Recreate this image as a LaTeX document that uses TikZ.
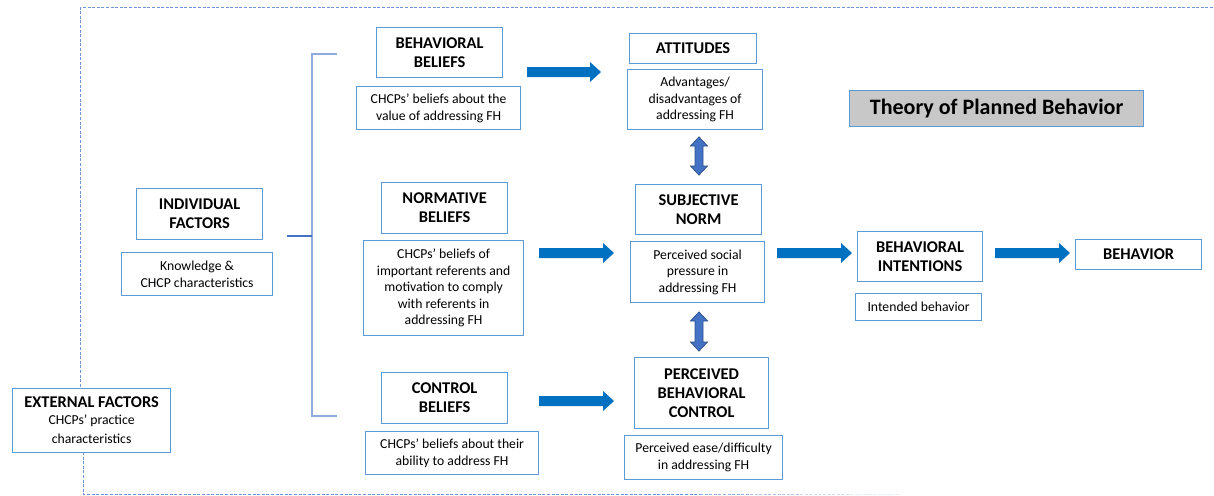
\documentclass[tikz,border=0pt]{standalone}
\usepackage{fontspec}
\setmainfont{Carlito}
\usetikzlibrary{calc}
\definecolor{boxblue}{RGB}{91,155,213}
\definecolor{arrblue}{RGB}{0,112,192}
\definecolor{dblue}{RGB}{68,114,196}
\definecolor{dblueedge}{RGB}{47,82,143}
\definecolor{brk}{RGB}{143,170,220}
\definecolor{dashcol}{RGB}{112,148,220}
\definecolor{titlegray}{RGB}{200,200,200}
\newcommand{\hdfont}{\fontsize{16.4}{19}\selectfont\bfseries}
\newcommand{\smfont}{\fontsize{13.7}{16.6}\selectfont\mdseries}
\newcommand{\harrow}[2]{%
  \fill[arrblue] ($(#1)+(0,-5)$) -- ($(#2)+(-11,-5)$) -- ($(#2)+(-11,-10)$) -- (#2)
    -- ($(#2)+(-11,10)$) -- ($(#2)+(-11,5)$) -- ($(#1)+(0,5)$) -- cycle;}
\newcommand{\varrow}[2]{%
  \filldraw[fill=dblue,draw=dblueedge,line width=0.8pt,line join=miter]
    (#1) -- ($(#1)+(8.5,9)$) -- ($(#1)+(4,9)$) -- ($(#2)+(4,-9)$) -- ($(#2)+(8.5,-9)$)
    -- (#2) -- ($(#2)+(-8.5,-9)$) -- ($(#2)+(-4,-9)$) -- ($(#1)+(-4,9)$) -- ($(#1)+(-8.5,9)$) -- cycle;}
\tikzset{
  box/.style={draw=boxblue, line width=1.2pt, fill=white, align=center, inner sep=1pt, anchor=north west},
  hd/.style={box, font=\hdfont},
  sm/.style={box, font=\smfont},
}
\begin{document}
\begin{tikzpicture}[x=1pt,y=-1pt]
\useasboundingbox (0,0) rectangle (1214,495);
% dashed frame
\begin{scope}[draw=dashcol, line width=1pt, dash pattern=on 3pt off 1.6pt]
  \draw (1213,8) -- (80,8) -- (80,390);
  \draw (83,452) -- (83,494) -- (700,494);
  \draw[opacity=0.75] (700,494) -- (750,494);
  \draw[opacity=0.55] (750,494) -- (800,494);
  \draw[opacity=0.35] (800,494) -- (850,494);
  \draw[opacity=0.18] (850,494) -- (900,494);
\end{scope}
% bracket
\coordinate (bl) at (287,236);
\coordinate (bm) at (312,236);
\coordinate (bt) at (312,54);
\coordinate (bb) at (312,416);
\coordinate (btr) at (337,54);
\coordinate (bbr) at (337,416);
\draw[brk, line width=1.2pt] (btr) -- (bt) -- (bb) -- (bbr);
\draw[dblue, line width=1.2pt] (bl) -- (bm);
% boxes
\node[hd, minimum width=158pt, minimum height=64pt] (ext) at (12,388)
  {EXTERNAL FACTORS\\[-2pt]\smfont CHCPs’ practice\\\smfont characteristics};
\node[hd, minimum width=126pt, minimum height=51pt] (ind) at (136,188) {INDIVIDUAL\\FACTORS};
\node[sm, minimum width=151pt, minimum height=43pt] (know) at (121,252) {Knowledge \&\\CHCP characteristics};
\node[hd, minimum width=126pt, minimum height=50pt] (bbel) at (376,27) {BEHAVIORAL\\BELIEFS};
\node[sm, minimum width=164pt, minimum height=43pt] (bbd) at (356,86) {CHCPs’ beliefs about the\\value of addressing FH};
\node[hd, minimum width=127pt, minimum height=30pt] (att) at (629,33) {ATTITUDES};
\node[sm, minimum width=135pt, minimum height=60pt] (attd) at (627,69) {Advantages/\\disadvantages of\\addressing FH};
\node[hd, minimum width=126pt, minimum height=51pt] (nb) at (381,182) {NORMATIVE\\BELIEFS};
\node[sm, minimum width=160pt, minimum height=95pt] (nbd) at (363,240) {CHCPs’ beliefs of\\important referents and\\motivation to comply\\with referents in\\addressing FH};
\node[hd, minimum width=126pt, minimum height=50pt] (sn) at (635,184) {SUBJECTIVE\\NORM};
\node[sm, minimum width=134pt, minimum height=61pt] (snd) at (630,241) {Perceived social\\pressure in\\addressing FH};
\node[hd, minimum width=126pt, minimum height=51pt] (cb) at (381,372) {CONTROL\\BELIEFS};
\node[sm, minimum width=173pt, minimum height=43pt] (cbd) at (365,431) {CHCPs’ beliefs about their\\ability to address FH};
\node[hd, minimum width=134pt, minimum height=71pt] (pbc) at (634,357) {PERCEIVED\\BEHAVIORAL\\CONTROL};
\node[sm, minimum width=158pt, minimum height=44pt] (pbcd) at (624,435) {Perceived ease/difficulty\\in addressing FH};
\node[box, fill=titlegray, font=\fontsize{22}{26}\selectfont\bfseries, minimum width=294pt, minimum height=36pt] (title) at (849,90) {Theory of Planned Behavior};
\node[hd, minimum width=125pt, minimum height=50pt] (bi) at (857,231) {BEHAVIORAL\\INTENTIONS};
\node[sm, minimum width=126pt, minimum height=27pt] (ib) at (855,293) {Intended behavior};
\node[hd, minimum width=126pt, minimum height=30pt] (beh) at (1075,239) {BEHAVIOR};
% arrows
\coordinate (a1s) at (527,72);  \coordinate (a1e) at (601,72);
\coordinate (a2s) at (539,253); \coordinate (a2e) at (614,253);
\coordinate (a3s) at (539,401); \coordinate (a3e) at (614,401);
\coordinate (a4s) at (777,253); \coordinate (a4e) at (852,253);
\coordinate (a5s) at (995,253); \coordinate (a5e) at (1070,253);
\harrow{a1s}{a1e}
\harrow{a2s}{a2e}
\harrow{a3s}{a3e}
\harrow{a4s}{a4e}
\harrow{a5s}{a5e}
\coordinate (d1t) at (699,137); \coordinate (d1b) at (699,175);
\coordinate (d2t) at (699,312); \coordinate (d2b) at (699,351);
\varrow{d1t}{d1b}
\varrow{d2t}{d2b}
\end{tikzpicture}
\end{document}
